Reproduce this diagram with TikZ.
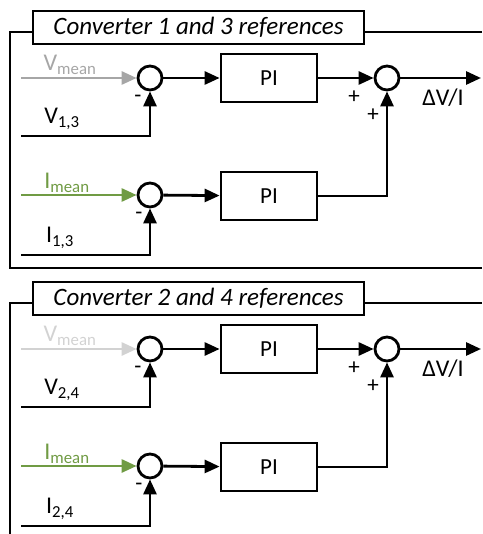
\documentclass[tikz,border=0pt]{standalone}
\usepackage{fontspec}
\setmainfont{Carlito}
\usetikzlibrary{arrows.meta,positioning}
\definecolor{vgray}{RGB}{166,166,166}
\definecolor{vlite}{RGB}{210,210,210}
\definecolor{igreen}{RGB}{112,155,68}

\begin{document}
\begin{tikzpicture}[x=1pt,y=-1pt,>={Triangle[length=15pt,width=13pt]},line width=2.8pt,
  sumnode/.style={circle,draw,line width=2.8pt,minimum size=24pt,inner sep=0pt},
  pibox/.style={draw,line width=2.8pt,minimum width=96pt,minimum height=48pt,font=\fontsize{23}{27}\selectfont},
  titlebox/.style={draw,line width=2.8pt,fill=white,minimum width=331pt,minimum height=33pt,inner sep=0pt,font=\fontsize{25}{29}\selectfont\itshape},
  lab/.style={font=\fontsize{24}{28}\selectfont,inner sep=0pt},
  sgn/.style={font=\fontsize{23}{27}\selectfont,inner sep=0pt}]
  \useasboundingbox (0,0) rectangle (482,534);
  % frames round the two panels
  \draw (482,32) -| (10,268) -- (482,268);
  \draw (482,303) -| (10,536);
  \foreach \dy/\n/\p/\q/\vc in {0/a/1/3/vgray,271/b/2/4/vlite}{
    \begin{scope}[yshift=-\dy pt]
      \node[titlebox] (t\n) at (198.5,27.5) {Converter \p\ and \q\ references};
      \node[sumnode] (sv\n) at (150,78) {};
      \node[sumnode] (si\n) at (150,195) {};
      \node[sumnode] (so\n) at (387,78) {};
      \node[pibox] (pv\n) at (269,78) {PI};
      \node[pibox] (pi\n) at (269,196) {PI};
      \coordinate (vin\n) at (21,78);
      \coordinate (iin\n) at (21,195);
      \coordinate (vm\n) at (21,136);
      \coordinate (im\n) at (21,255);
      \coordinate (out\n) at (481,78);
      \draw[->,\vc] (vin\n) -- (sv\n);
      \draw[->,igreen] (iin\n) -- (si\n);
      \draw[->] (vm\n) -| (sv\n);
      \draw[->] (im\n) -| (si\n);
      \draw[->] (sv\n) -- (pv\n);
      \draw[->] (si\n) -- (pi\n);
      \draw[->] (pv\n) -- (so\n);
      \draw[->] (pi\n) -| (so\n);
      \draw[->] (so\n) -- (out\n);
      \node[lab,text=\vc] (lv\n) at (70,65) {V\textsubscript{mean}};
      \node[lab,text=igreen] (li\n) at (67,183) {I\textsubscript{mean}};
      \node[lab] (lvm\n) at (62,119) {V\textsubscript{\p,\q}};
      \node[lab] (lim\n) at (60,238) {I\textsubscript{\p,\q}};
      \node[sgn] (mv\n) at (138,99) {-};
      \node[sgn] (mi\n) at (139,216) {-};
      \node[sgn] (pa\n) at (354,97) {+};
      \node[sgn] (pb\n) at (373,115) {+};
      \node[lab] (lo\n) at (443,98) {ΔV/I};
    \end{scope}
  }
\end{tikzpicture}
\end{document}
